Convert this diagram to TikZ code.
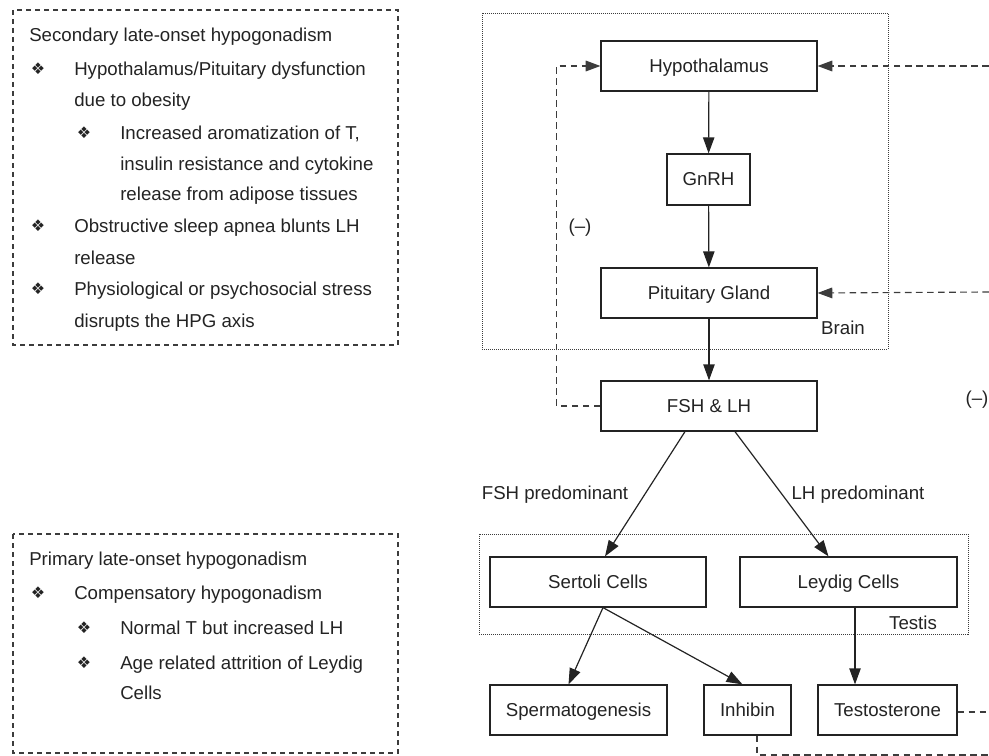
\documentclass[tikz,border=0pt]{standalone}
\usepackage{fontspec}
\setmainfont{Liberation Sans}
\newfontfamily\symfont{DejaVu Sans}
\usetikzlibrary{arrows.meta, positioning, calc}
\definecolor{LineGray}{RGB}{35,35,35}
\definecolor{DashGray}{RGB}{60,60,60}
\newcommand{\diabullet}{{\symfont\fontsize{12}{13}\selectfont ❖}}

\tikzset{
  organ/.style={draw=LineGray, line width=0.9pt, minimum height=37.5pt, inner sep=0pt,
                text=LineGray, font=\fontsize{14}{16}\selectfont,
                text height=10pt, text depth=0.5pt},
  flow/.style={-{Triangle[length=12pt,width=8.5pt]}, line width=0.9pt, draw=LineGray},
  feedback/.style={dash pattern=on 5pt off 3.3pt, line width=0.85pt, draw=DashGray},
  fbtip/.style={-{Triangle[length=11pt,width=8pt]}},
  region/.style={draw=DashGray, line width=0.7pt, dash pattern=on 0.75pt off 0.75pt},
  notebox/.style={draw=DashGray, line width=0.8pt, dash pattern=on 3.75pt off 3pt},
  tag/.style={text=LineGray, font=\fontsize{14}{16}\selectfont, inner sep=0pt},
  noteline/.style={anchor=west, text=LineGray, font=\fontsize{14}{16}\selectfont,
                   inner sep=0pt, text height=10pt, text depth=0.5pt},
  notebullet/.style={text=LineGray, inner sep=0pt}
}

\begin{document}
\begin{tikzpicture}[x=0.75pt, y=-0.75pt]
\useasboundingbox (0,0) rectangle (989,756);

% brain and testis regions
\draw[region] (482,13) rectangle (888,349);
\draw[region] (479,534) rectangle (968,634);
\node[tag] (brain) at (843,328) {Brain};
\node[tag] (testis) at (913,623) {Testis};

% HPG axis
\node[organ, minimum width=162pt] (hypo) at (709,66) {Hypothalamus};
\node[organ, minimum width=62.25pt, minimum height=38.25pt] (gnrh) at (708.5,179.5) {GnRH};
\node[organ, minimum width=162pt] (pit) at (709,293) {Pituitary Gland};
\node[organ, minimum width=162pt] (fshlh) at (709,406) {FSH \& LH};
\node[organ, minimum width=162pt] (sertoli) at (598,582) {Sertoli Cells};
\node[organ, minimum width=162.75pt] (leydig) at (848.5,582) {Leydig Cells};
\node[organ, minimum width=132.75pt] (sperm) at (578.5,710) {Spermatogenesis};
\node[organ, minimum width=65.25pt] (inhibin) at (747.5,710) {Inhibin};
\node[organ, minimum width=104.25pt] (testo) at (887.5,710) {Testosterone};

\draw[flow] (hypo) -- (gnrh);
\draw[flow] (gnrh) -- (pit);
\draw[flow] (pit) -- (fshlh);
\draw[flow] ($(fshlh.south)+(-24,0)$) -- ($(sertoli.north)+(7,0)$);
\draw[flow] ($(fshlh.south)+(26,0)$) -- ($(leydig.north)+(-20,0)$);
\coordinate (sbase) at ($(sertoli.south)+(5,0)$);
\draw[flow] (sbase) -- ($(sperm.north)+(-10,0)$);
\draw[flow] (sbase) -- ($(inhibin.north)+(-5,0)$);
\coordinate (lbase) at ($(leydig.south)+(6.5,0)$);
\draw[flow] (lbase) -- (lbase |- testo.north);

\node[tag] (fshpre) at (555,495) {FSH predominant};
\node[tag] (lhpre) at (858,495) {LH predominant};
\node[tag] (negleft) at (580,228) {(–)};
\node[tag] (negright) at (977,400) {(–)};

% negative feedback
\coordinate (hypin) at (989,66);
\coordinate (pitin) at (989,292);
\coordinate (testout) at (989,712);
\coordinate (inhout) at (989,755);
\draw[feedback, fbtip] (fshlh.west) -- ++(-44,0) |- (hypo.west);
\draw[feedback, fbtip] (hypin) -- (hypo.east);
\draw[feedback, fbtip] (pitin) -- (pit.east);
\draw[feedback] (testo.east |- testout) -- (testout);
\draw[feedback] ($(inhibin.south)+(9.5,0)$) |- (inhout);

% notes on the left
\draw[notebox] (13,10) rectangle (398,345);
\draw[notebox] (13,534) rectangle (398,753);
\foreach \x/\y/\txt [count=\i] in {
    29/35/Secondary late-onset hypogonadism,
    74/69/{Hypothalamus/Pituitary dysfunction},
    74/100/due to obesity,
    120/133/{Increased aromatization of T,},
    120/164/insulin resistance and cytokine,
    120/194/release from adipose tissues,
    74/226/Obstructive sleep apnea blunts LH,
    74/258/release,
    74/289/Physiological or psychosocial stress,
    74/321/disrupts the HPG axis,
    29/559/Primary late-onset hypogonadism,
    74/593/Compensatory hypogonadism,
    120/628/Normal T but increased LH,
    120/663/Age related attrition of Leydig,
    120/693/Cells}
  \node[noteline] (note\i) at (\x,\y) {\txt};
\foreach \x/\y [count=\i] in {38/69, 84/133, 38/226, 38/289, 38/593, 84/628, 84/663}
  \node[notebullet] (bul\i) at (\x,\y) {\diabullet};
\end{tikzpicture}
\end{document}
